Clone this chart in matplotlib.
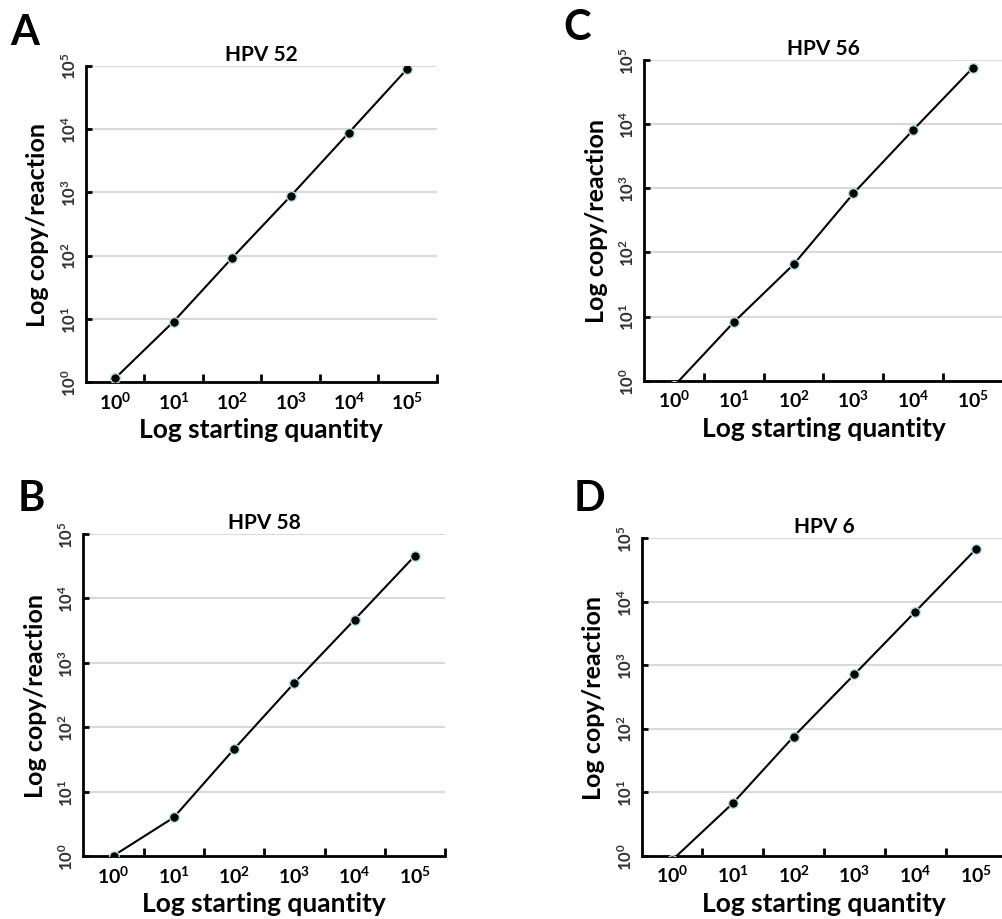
import numpy as np
import matplotlib
matplotlib.use('Agg')
from matplotlib import pyplot as plt
from matplotlib.ticker import FixedLocator, NullLocator

plt.rcParams['font.family'] = ['Lato', 'DejaVu Sans']
plt.rcParams['mathtext.fontset'] = 'custom'
plt.rcParams['mathtext.rm'] = 'Lato'
plt.rcParams['mathtext.bf'] = 'Lato:bold'

# starting quantity categories (log scale, one per decade)
quantities = [1, 10, 100, 1000, 10000, 100000]
x_labels = [r'$\mathbf{10^{%d}}$' % i for i in range(6)]
y_values = [1, 10, 100, 1000, 10000, 100000]
y_labels = [r'$\mathbf{10^{%d}}$' % i for i in range(6)]

# measured copies per reaction
hpv52 = [1.16, 9.1, 92, 870, 8800, 90000]
hpv56 = [0.83, 8.2, 65, 830, 8100, 75500]
hpv58 = [1.02, 4.0, 46, 490, 4700, 46000]
hpv6 = [0.85, 6.7, 75, 715, 6900, 67000]

panels = [
    ('A', 'HPV 52', hpv52, [0.0858, 0.5834, 0.350, 0.3441]),
    ('C', 'HPV 56', hpv56, [0.643, 0.5851, 0.3577, 0.3486]),
    ('B', 'HPV 58', hpv58, [0.0832, 0.0682, 0.361, 0.3503]),
    ('D', 'HPV 6', hpv6, [0.6404, 0.0688, 0.364, 0.3453]),
]


def main():
    fig = plt.figure(figsize=(10.02, 9.2), dpi=100)
    pos = np.arange(len(quantities))

    for letter, title, vals, rect in panels:
        ax = fig.add_axes(rect)
        ax.set_yscale('log')
        ax.plot(pos, vals, color='black', lw=1.5, marker='o', markersize=7,
                markerfacecolor='black', markeredgecolor='#b5e3e3',
                markeredgewidth=1.0, zorder=3)
        ax.set_xlim(-0.5, len(quantities) - 0.5)
        ax.set_ylim(1, 1e5)

        # labels sit in the middle of each category, tick marks on the borders
        ax.xaxis.set_major_locator(FixedLocator(pos))
        ax.set_xticklabels(x_labels, fontsize=14)
        ax.xaxis.set_minor_locator(FixedLocator(pos + 0.5))
        ax.tick_params(axis='x', which='major', length=0, pad=6)
        ax.tick_params(axis='x', which='minor', direction='in', length=6, width=2)

        ax.yaxis.set_major_locator(FixedLocator(y_values))
        ax.yaxis.set_minor_locator(NullLocator())
        ax.set_yticklabels(y_labels, fontsize=12, rotation=90, va='center',
                           color='#333333')
        ax.tick_params(axis='y', which='major', direction='in', length=4,
                       width=2, pad=5)

        ax.grid(axis='y', color='#d9d9d9', lw=1.5, zorder=0)
        ax.set_axisbelow(True)
        for side in ('top', 'right'):
            ax.spines[side].set_visible(False)
        for side in ('left', 'bottom'):
            ax.spines[side].set_linewidth(2)

        ax.set_title(title, fontsize=15, fontweight='bold', y=1.0, pad=4)
        ax.set_xlabel('Log starting quantity', fontsize=19, fontweight='bold',
                      labelpad=4)
        ax.set_ylabel('Log copy/reaction', fontsize=18, fontweight='bold',
                      labelpad=8)

    fig.text(0.010, 0.985, 'A', fontsize=30, fontweight='bold', va='top')
    fig.text(0.562, 0.990, 'C', fontsize=30, fontweight='bold', va='top')
    fig.text(0.018, 0.478, 'B', fontsize=30, fontweight='bold', va='top')
    fig.text(0.572, 0.478, 'D', fontsize=30, fontweight='bold', va='top')

    fig.savefig('out.png', dpi=100)


if __name__ == '__main__':
    main()
